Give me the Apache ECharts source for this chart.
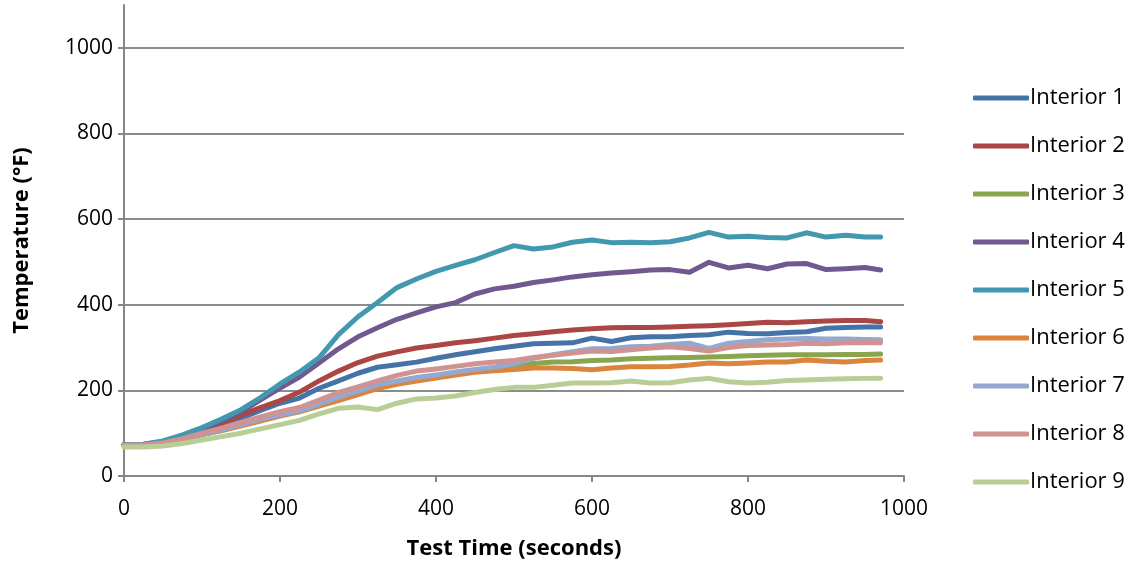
<!DOCTYPE html>
<html>
<head>
<meta charset="utf-8">
<script src="https://cdn.jsdelivr.net/npm/echarts@6/dist/echarts.min.js"></script>
<style>
html,body{margin:0;padding:0;background:#fff}
#chart{width:1135px;height:566px}
</style>
</head>
<body>
<div id="chart"></div>
<script>
// test time in seconds
const times=[0,25,50,75,100,125,150,175,200,225,250,275,300,325,350,375,400,425,450,475,500,525,550,575,600,625,650,675,700,725,750,775,800,825,850,875,900,925,950,970];
const names=['Interior 1','Interior 2','Interior 3','Interior 4','Interior 5','Interior 6','Interior 7','Interior 8','Interior 9'];
const colors=['#4572A7','#AA4643','#89A54E','#71588F','#4198AF','#DB843D','#93A9CF','#D19392','#B9CD96'];
const yTicks=[0,200,400,600,800,1000];
const xTicks=[0,200,400,600,800,1000];

const interior1=[73,73,78,90,104,118,135,153,170,182,205,222,240,254,260,266,275,283,290,297,303,309,310,311,322,314,323,325,325,328,330,336,333,332,335,337,345,347,348,348];
const interior2=[73,73,79,91,106,122,142,160,176,196,222,245,265,280,290,299,305,311,316,322,328,332,337,341,344,346,347,347,348,350,351,353,356,359,358,360,362,363,363,360];
const interior3=[72,72,76,85,97,106,118,130,142,152,165,179,193,207,218,226,233,240,246,252,259,263,266,267,270,271,274,275,276,277,278,279,281,282,283,283,283,284,284,285];
const interior4=[73,74,80,93,110,128,150,178,205,231,264,297,325,346,366,381,395,405,425,437,443,452,458,465,470,474,477,481,482,476,499,486,492,484,495,496,482,484,487,481];
const interior5=[73,74,82,96,113,133,155,183,215,243,276,330,372,405,440,460,478,492,505,522,538,530,535,546,551,545,546,545,547,556,569,558,560,557,556,568,558,562,558,558];
const interior6=[72,72,76,85,97,106,117,128,140,150,163,176,190,204,214,222,229,236,242,246,249,252,252,251,248,252,255,255,256,259,264,262,264,266,266,271,268,266,270,271];
const interior7=[72,72,76,86,98,108,120,133,143,152,168,184,198,213,222,230,236,243,249,254,262,275,283,290,297,298,302,303,307,310,298,310,314,318,320,321,320,320,319,318];
const interior8=[72,72,77,87,100,112,125,138,150,160,177,195,208,222,235,245,250,256,262,266,270,277,282,287,292,291,295,299,302,298,292,300,305,306,307,310,309,311,312,311];
const interior9=[68,68,70,76,84,92,100,110,120,130,145,158,161,155,170,180,182,187,195,202,207,207,212,217,217,218,222,217,218,224,228,220,217,219,223,224,226,227,228,228];
const allData=[interior1,interior2,interior3,interior4,interior5,interior6,interior7,interior8,interior9];

const font='"Open Sans", sans-serif';
const axisGray='#868686';

var c=echarts.init(document.getElementById('chart'));
c.setOption({
 animation:false,
 color:colors,
 grid:{left:124,right:231,top:5,bottom:90,containLabel:false},
 legend:{
  orient:'vertical',left:968,top:82,
  icon:'roundRect',itemWidth:56,itemHeight:5,itemGap:26,
  textStyle:{fontFamily:font,fontSize:22,color:'#000',lineHeight:22,padding:[0,0,0,-4]},
  data:names
 },
 xAxis:{
  type:'value',min:xTicks[0],max:xTicks[xTicks.length-1],interval:200,
  name:'Test Time (seconds)',nameLocation:'middle',nameGap:62,
  nameTextStyle:{fontFamily:font,fontSize:22,fontWeight:'bold',color:'#000'},
  axisLine:{show:true,lineStyle:{color:axisGray,width:2}},
  axisTick:{show:true,length:6,lineStyle:{color:axisGray,width:2}},
  axisLabel:{fontFamily:font,fontSize:21,color:'#000',margin:23,formatter:v=>String(v)},
  splitLine:{show:false}
 },
 yAxis:{
  type:'value',min:0,max:1100,interval:200,
  name:'Temperature (°F)',nameLocation:'middle',nameGap:91,
  nameTextStyle:{fontFamily:font,fontSize:22,fontWeight:'bold',color:'#000'},
  axisLine:{show:true,lineStyle:{color:axisGray,width:2}},
  axisTick:{show:true,length:6,lineStyle:{color:axisGray,width:2}},
  axisLabel:{fontFamily:font,fontSize:21,color:'#000',margin:11,showMaxLabel:false,formatter:v=>String(v)},
  splitLine:{show:true,showMaxLine:false,showMinLine:false,lineStyle:{color:'#8c8c8c',width:2}}
 },
 series:allData.map((d,i)=>({
  name:names[i],type:'line',symbol:'none',
  data:d.map((v,j)=>[times[j],v]),
  lineStyle:{width:5,cap:'round',join:'round'}
 }))
});
</script>
</body>
</html>
